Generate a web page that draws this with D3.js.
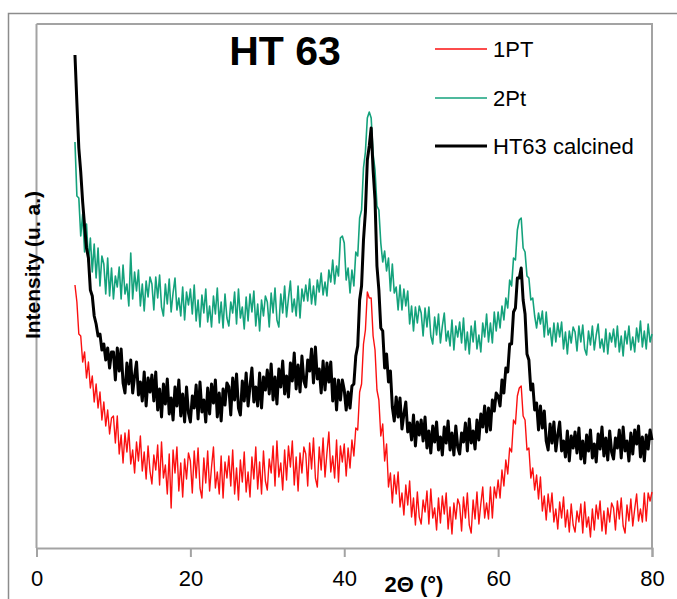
<!DOCTYPE html>
<html>
<head>
<meta charset="utf-8">
<script src="https://cdn.jsdelivr.net/npm/d3@7"></script>
<style>
  body { margin: 0; background: #fff; }
  text { font-family: "Liberation Sans", Arial, sans-serif; fill: #000; }
</style>
</head>
<body>
<div class="chart"></div>
<script>
// sampling grid of the diffractograms (2 theta, degrees)
var angleStart = 5, angleStep = 0.25;

// intensities, arbitrary units
var pt1 = [
  263,246,214,212,186,196,170,186,160,172,146,164,140,156,128,146,122,138,114,130,
  132,105,132,94,113,85,115,96,118,84,98,75,106,87,112,77,96,69,102,77,
  64,93,78,103,63,106,70,83,54,94,40,98,75,101,57,85,51,89,69,95,
  87,55,97,70,100,60,50,90,65,97,57,81,101,60,76,54,92,50,86,70,
  92,62,98,54,80,48,88,66,96,56,76,51,91,69,101,59,86,54,97,67,
  58,89,75,102,62,107,71,85,58,98,68,102,81,107,63,91,57,95,75,101,
  94,62,105,79,110,70,61,101,78,110,71,95,116,76,92,70,108,66,102,86,
  104,72,100,80,108,92,120,118,156,164,204,218,256,250,250,212,198,158,148,112,
  124,87,104,61,75,45,73,54,76,41,55,33,63,43,67,31,50,23,56,31,
  24,48,36,57,24,59,30,40,18,50,25,52,34,55,19,41,14,45,29,49,
  43,17,51,30,55,23,15,48,29,56,24,44,61,30,45,29,61,30,61,50,
  68,50,78,62,88,74,100,96,128,124,152,160,162,132,128,98,100,70,80,58,
  73,49,71,37,52,28,54,36,55,26,39,19,46,30,51,21,38,16,44,23,
  16,37,26,44,15,46,21,31,11,39,18,43,29,47,17,37,14,40,26,45,
  40,18,47,29,50,22,15,43,27,49,22,39,54,27,39,26,55,27,55,47,
  56
];

var pt2 = [
  406,352,350,312,334,296,324,286,310,276,304,270,300,262,292,284,254,290,252,280,
  249,272,261,281,249,283,254,264,242,295,249,276,257,278,242,264,237,267,251,271,
  264,238,271,250,273,241,232,264,244,269,236,255,270,238,250,232,261,228,256,243,
  259,234,263,227,248,221,253,235,259,226,242,221,252,234,260,225,246,220,254,230,
  222,246,235,256,224,259,230,241,219,251,227,254,236,257,222,244,217,248,232,252,
  246,221,255,235,260,228,221,254,235,262,231,250,267,236,249,232,262,230,259,247,
  263,247,269,244,262,243,268,256,275,253,266,252,278,266,288,264,282,272,310,312,
  305,268,280,255,278,262,296,292,330,338,380,396,430,436,430,394,378,342,338,305,
  286,297,277,290,257,284,255,261,238,263,238,259,242,257,224,242,217,241,225,242,
  235,212,240,221,241,212,204,231,213,234,205,222,235,207,217,202,228,198,222,211,
  226,205,230,198,216,194,222,206,227,199,213,196,225,211,234,206,225,205,236,217,
  236,220,242,228,250,240,268,262,290,288,318,328,330,300,296,272,270,248,250,232,
  220,235,224,237,211,236,213,220,202,225,206,225,211,226,199,216,194,217,205,221,
  216,197,222,206,223,199,193,217,203,222,198,213,224,200,209,196,219,194,215,206,
  219,201,222,196,212,192,217,204,222,198,211,196,220,206,227,201,217,199,224,206,
  214
];

var ht63 = [
  493,445,400,376,346,322,300,290,258,252,232,224,212,214,198,204,188,200,180,196,
  196,168,200,177,199,165,155,185,164,188,155,172,186,153,166,147,176,142,170,156,
  173,147,176,138,159,131,164,144,169,134,150,128,161,142,168,132,154,126,161,135,
  126,152,140,163,129,166,136,148,126,160,134,164,145,168,131,155,127,159,143,165,
  161,133,170,148,174,140,133,167,147,175,142,162,180,146,161,142,175,140,171,158,
  178,154,184,148,171,144,179,161,187,154,172,151,185,167,195,159,183,156,192,167,
  161,188,177,199,165,201,169,179,155,187,158,185,166,186,147,169,138,168,148,168,
  158,138,156,140,162,164,192,202,248,262,308,336,388,402,420,378,348,282,258,220,
  217,180,194,166,177,141,127,151,131,150,119,134,146,116,125,108,133,102,126,113,
  128,107,131,100,117,95,122,106,126,98,111,93,121,105,127,98,115,93,122,101,
  94,115,106,125,97,129,105,117,99,128,108,134,121,142,116,140,118,148,137,155,
  152,142,168,155,180,176,204,204,236,240,270,270,280,248,234,194,188,158,164,138,
  145,118,142,120,137,107,98,124,105,126,97,113,126,97,107,91,117,87,112,100,
  116,95,120,89,107,85,113,97,118,90,104,86,114,99,121,92,110,88,117,96,
  89,110,100,118,90,121,97,107,87,115,94,118,104,122,91,111,87,113,99,118,
  108
];

var seriesNames = ["1PT", "2Pt", "HT63 calcined"];
var seriesColors = ["#fb1010", "#14a27c", "#000000"];
var seriesWidths = [1.4, 1.6, 3];
var xTicks = [0, 20, 40, 60, 80];

if (pt1.length !== pt2.length || pt2.length !== ht63.length) {
  throw new Error("length mismatch " + pt1.length + " " + pt2.length + " " + ht63.length);
}
var twoTheta = d3.range(pt1.length).map(function(i){ return angleStart + i * angleStep; });

// set canvas
var width = 677, height = 599;
var margin = { left: 36.5, right: 25, top: 24, bottom: 51 };
var plotW = width - margin.left - margin.right,
    plotH = height - margin.top - margin.bottom;

var svg = d3.select(".chart")
  .append("svg")
    .attr("width", width)
    .attr("height", height);

// outer chart border
svg.append("rect")
  .attr("x", 8.5).attr("y", 13.5)
  .attr("width", 700).attr("height", 700)
  .attr("fill", "none")
  .attr("stroke", "#8c8c8c")
  .attr("stroke-width", 1.5);

var g = svg.append("g")
  .attr("transform", "translate(" + margin.left + "," + margin.top + ")");

var x = d3.scaleLinear().domain([0, 80]).range([0, plotW]);
var y = d3.scaleLinear().domain([0, 524]).range([plotH, 0]);

// plot area border (top, right)
g.append("path")
  .attr("d", "M0,0H" + plotW + "V" + plotH)
  .attr("fill", "none")
  .attr("stroke", "#a3a3a3")
  .attr("stroke-width", 2);

// y axis line, no ticks
g.append("line")
  .attr("x1", 0).attr("x2", 0).attr("y1", 0).attr("y2", plotH)
  .attr("stroke", "#a3a3a3").attr("stroke-width", 2);

// x axis
var xAxis = g.append("g")
  .attr("transform", "translate(0," + plotH + ")")
  .call(d3.axisBottom(x).tickValues(xTicks).tickSize(9).tickPadding(13).tickFormat(d3.format("d")));
xAxis.select(".domain").attr("stroke", "#a3a3a3").attr("stroke-width", 2);
xAxis.selectAll(".tick line").attr("stroke", "#a3a3a3").attr("stroke-width", 2);
xAxis.selectAll(".tick text")
  .attr("font-size", "22px")
  .attr("font-family", "Liberation Sans, Arial, sans-serif")
  .attr("fill", "#000");

// lines
var line = d3.line()
  .x(function(d){ return x(d[0]); })
  .y(function(d){ return y(d[1]); });

[pt1, pt2, ht63].forEach(function(vals, k) {
  g.append("path")
    .datum(vals.map(function(v, i){ return [twoTheta[i], v]; }))
    .attr("fill", "none")
    .attr("stroke", seriesColors[k])
    .attr("stroke-width", seriesWidths[k])
    .attr("stroke-linejoin", "round")
    .attr("d", line);
});

// title
svg.append("text")
  .attr("x", 285).attr("y", 65)
  .attr("text-anchor", "middle")
  .attr("font-size", "41px")
  .attr("font-weight", "bold")
  .text("HT 63");

// axis titles
svg.append("text")
  .attr("x", 414).attr("y", 592)
  .attr("text-anchor", "middle")
  .attr("font-size", "22px")
  .attr("font-weight", "bold")
  .text("2Θ (°)");

svg.append("text")
  .attr("transform", "translate(40,265) rotate(-90)")
  .attr("text-anchor", "middle")
  .attr("font-size", "21px")
  .attr("font-weight", "bold")
  .text("Intensity (u. a.)");

// legend
var legendY = [49, 98, 146];
seriesNames.forEach(function(name, k) {
  svg.append("line")
    .attr("x1", 435).attr("x2", 487)
    .attr("y1", legendY[k]).attr("y2", legendY[k])
    .attr("stroke", seriesColors[k])
    .attr("stroke-width", k === 2 ? 3 : 1.5);
  svg.append("text")
    .attr("x", 493).attr("y", legendY[k] + 8)
    .attr("font-size", "22px")
    .text(name);
});
</script>
</body>
</html>
